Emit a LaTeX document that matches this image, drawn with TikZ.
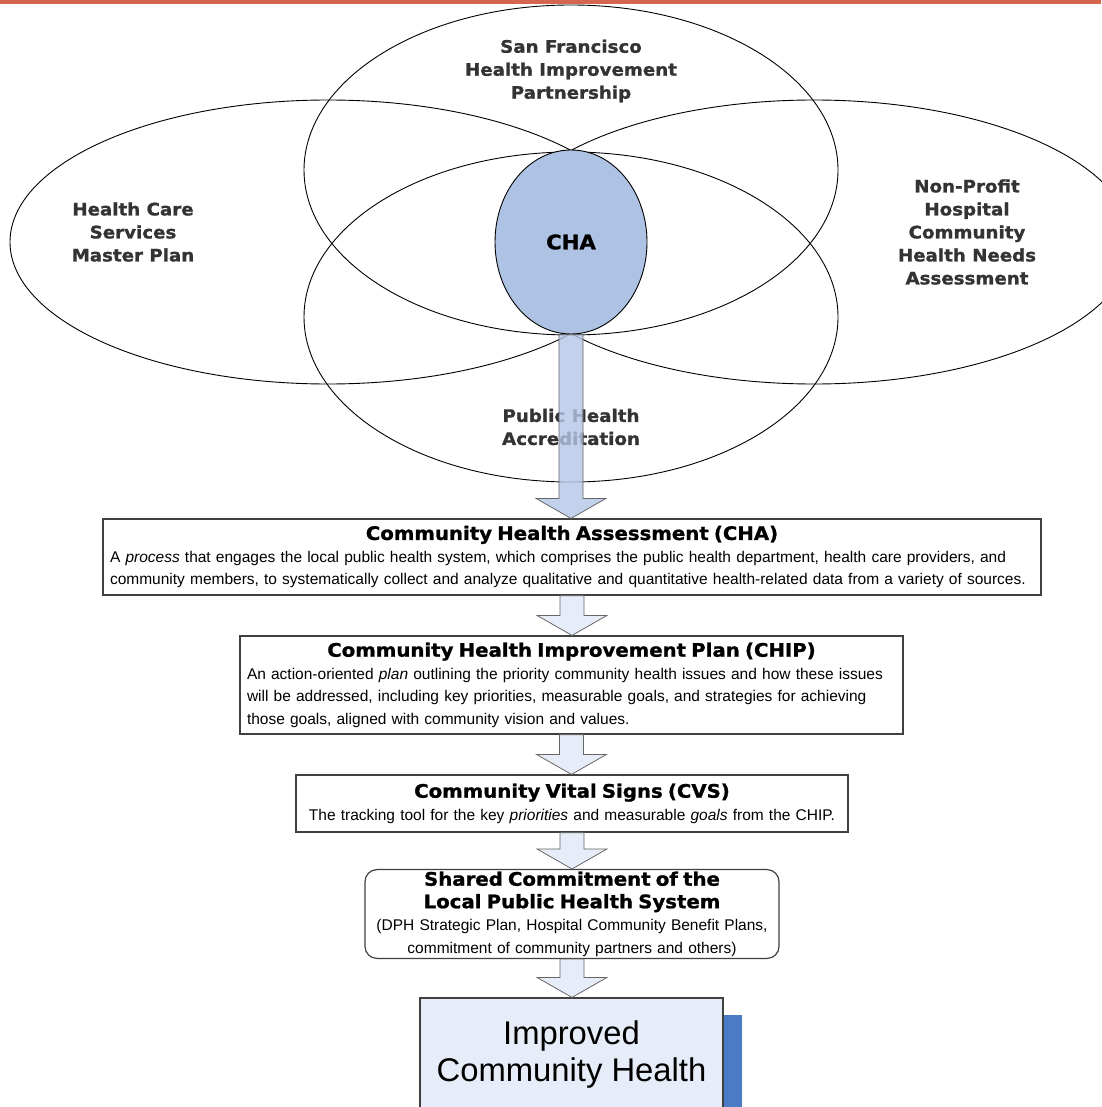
\documentclass[tikz,border=0pt]{standalone}
\usepackage{fontspec}
\setmainfont{Liberation Sans}
\newfontfamily\heavyfont[FakeStretch=1.06,FakeBold=1.2]{DejaVu Sans}
\usetikzlibrary{shapes.geometric,calc,positioning}

\definecolor{topbar}{RGB}{214,101,78}
\definecolor{chablue}{RGB}{174,194,227}
\definecolor{bigarrow}{RGB}{180,199,231}
\definecolor{paleblue}{RGB}{230,237,248}
\definecolor{shadowblue}{RGB}{74,123,196}

\tikzset{
  venn/.style={ellipse, draw=black, line width=0.9pt, inner sep=0pt},
  vennlabel/.style={text=black!80, align=center,
    font=\heavyfont\bfseries\fontsize{17.2}{23}\selectfont},
  stepbox/.style={draw=black!75, line width=1.2pt, fill=white, inner xsep=7pt,
    inner ysep=2pt, font=\fontsize{15.5}{22.5}\selectfont},
  arrowline/.style={draw=black!60, line width=0.8pt}
}

% box titles
\newcommand{\boxtitle}[1]{{\heavyfont\bfseries\fontsize{18.6}{22.5}\selectfont #1}}
\newcommand{\midtitle}[1]{\makebox[\hsize]{\boxtitle{#1}}}

% block arrow from one node to the next
\newcommand{\flowarrow}[4][]{%
  \draw[arrowline, fill=#2, #1] let \p1=(#3), \p2=(#4) in
    (\x1-12pt,\y1) -- (\x1+12pt,\y1) -- (\x1+12pt,\y2+20pt) -- (\x1+35pt,\y2+20pt)
    -- (\x1,\y2) -- (\x1-35pt,\y2+20pt) -- (\x1-12pt,\y2+20pt) -- cycle;}

\begin{document}
\begin{tikzpicture}[x=1pt,y=-1pt]
  \useasboundingbox (0,0) rectangle (1101,1107);
  \fill[topbar] (0,0) rectangle (1101,4);

  % the four circles round the CHA
  \node[venn, minimum width=636, minimum height=284] (hcsmp) at (328,242) {};
  \node[venn, minimum width=636, minimum height=284] (nphna) at (814,242) {};
  \node[venn, minimum width=534, minimum height=330] (sfhip) at (571,170) {};
  \node[venn, minimum width=534, minimum height=330] (pha) at (571,317) {};
  \node[venn, fill=chablue, minimum width=152, minimum height=184,
    font=\heavyfont\bfseries\fontsize{20}{24}\selectfont] (cha) at (571,242) {CHA};

  \node[vennlabel] (sfhiplabel) at (571,71) {San Francisco\\Health Improvement\\Partnership};
  \node[vennlabel] (hcsmplabel) at (133,232) {Health Care\\Services\\Master Plan};
  \node[vennlabel] (nphnalabel) at (967,232) {Non-Profit\\Hospital\\Community\\Health Needs\\Assessment};
  \node[vennlabel] (phalabel) at (571,427) {Public Health\\Accreditation};

  % the steps
  \node[stepbox, text width=924, minimum height=76, align=left] (chabox) at (572,557)
    {\midtitle{Community Health Assessment (CHA)}\\
     A \textit{process} that engages the local public health system, which comprises the public health department, health care providers, and\\
     community members, to systematically collect and analyze qualitative and quantitative health-related data from a variety of sources.};
  \node[stepbox, text width=649, minimum height=98, align=left] (chip) at (571.5,685)
    {\midtitle{Community Health Improvement Plan (CHIP)}\\
     An action-oriented \textit{plan} outlining the priority community health issues and how these issues\\
     will be addressed, including key priorities, measurable goals, and strategies for achieving\\
     those goals, aligned with community vision and values.};
  \node[stepbox, text width=538, minimum height=57, align=center] (cvs) at (572,803.5)
    {\boxtitle{Community Vital Signs (CVS)}\\
     The tracking tool for the key \textit{priorities} and measurable \textit{goals} from the CHIP.};
  \node[stepbox, text width=400, minimum height=86, align=center, rounded corners=12pt] (shared) at (572,914)
    {\boxtitle{Shared Commitment of the}\\
     \boxtitle{Local Public Health System}\\
     (DPH Strategic Plan, Hospital Community Benefit Plans,\\
     commitment of community partners and others)};

  \fill[shadowblue] (723,1015) rectangle (742,1112);
  \node[stepbox, fill=paleblue, minimum width=303, minimum height=114,
    font=\fontsize{32.8}{37}\selectfont, align=center] (improved) at (571.5,1055)
    {Improved\\Community Health};

  % arrows
  \flowarrow[fill opacity=0.8]{bigarrow}{cha.south}{chabox.north}
  \flowarrow{paleblue}{chabox.south}{chip.north}
  \flowarrow{paleblue}{chip.south}{cvs.north}
  \flowarrow{paleblue}{cvs.south}{shared.north}
  \flowarrow{paleblue}{shared.south}{improved.north}
\end{tikzpicture}
\end{document}
